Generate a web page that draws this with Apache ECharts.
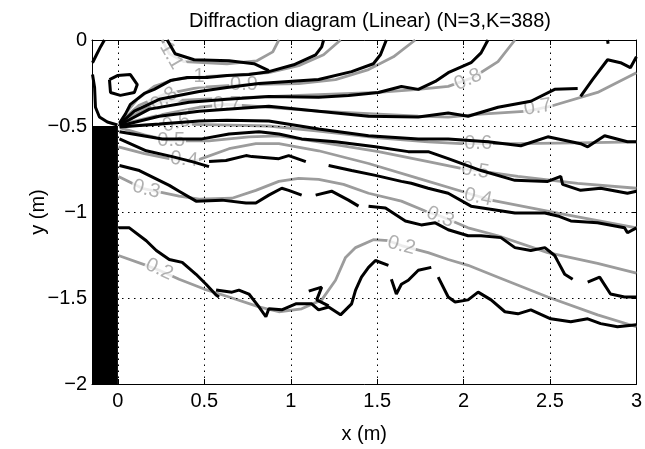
<!DOCTYPE html>
<html><head><meta charset="utf-8">
<script src="https://cdn.jsdelivr.net/npm/echarts@6/dist/echarts.min.js"></script>
<style>html,body{margin:0;padding:0;background:#fff}#c{width:645px;height:449px}</style>
</head><body><div id="c"></div><script>
// ---- axis ticks ----
const xTicks = [0, 0.5, 1, 1.5, 2, 2.5, 3];
const yTicks = [-2, -1.5, -1, -0.5, 0];
const xGrid = [0, 0.5, 1, 1.5, 2, 2.5];
const yGrid = [-1.5, -1, -0.5];

// ---- breakwater (solid block) ----
const breakwater = [[-0.15, -0.5], [0, -0.5]];

// ---- theoretical contours (gray) ----
const gray11 = [[0.256,0],[0.297,-0.080],[0.383,-0.126],[0.631,-0.138],[0.804,-0.121],[0.896,-0.069],[0.931,0]];
const gray10 = [[0.055,-0.414],[0.112,-0.345],[0.210,-0.270],[0.326,-0.230],[0.470,-0.213],[0.643,-0.207],[0.873,-0.190],[1.046,-0.149],[1.190,-0.086],[1.288,0]];
const gray09 = [[0.043,-0.448],[0.124,-0.379],[0.268,-0.316],[0.470,-0.276],[0.729,-0.259],[1.046,-0.253],[1.259,-0.230],[1.450,-0.172],[1.594,-0.098],[1.720,0]];
const gray08 = [[0.032,-0.471],[0.153,-0.402],[0.268,-0.356],[0.470,-0.345],[0.758,-0.333],[1.046,-0.322],[1.507,-0.305],[1.738,-0.287],[1.911,-0.270],[2.055,-0.218],[2.199,-0.126],[2.297,0]];
const gray07 = [[0.026,-0.489],[0.239,-0.437],[0.470,-0.391],[0.631,-0.374],[0.873,-0.391],[1.161,-0.414],[1.507,-0.431],[1.738,-0.443],[1.911,-0.448],[2.101,-0.431],[2.372,-0.414],[2.504,-0.385],[2.775,-0.305],[3.0,-0.190]];
const gray06 = [[0.020,-0.500],[0.182,-0.494],[0.337,-0.489],[0.585,-0.494],[0.873,-0.500],[1.161,-0.529],[1.507,-0.569],[1.795,-0.592],[1.986,-0.603],[2.314,-0.603],[2.660,-0.598],[3.0,-0.592]];
const gray05 = [[0.014,-0.511],[0.153,-0.552],[0.308,-0.586],[0.527,-0.586],[0.758,-0.563],[0.931,-0.557],[1.161,-0.592],[1.507,-0.649],[1.795,-0.707],[1.986,-0.747],[2.314,-0.793],[2.660,-0.833],[3.0,-0.862]];
const gray04 = [[0.003,-0.621],[0.153,-0.661],[0.297,-0.690],[0.452,-0.701],[0.643,-0.632],[0.798,-0.603],[0.931,-0.603],[1.161,-0.644],[1.450,-0.718],[1.738,-0.805],[2.026,-0.891],[2.159,-0.931],[2.545,-1.006],[3.0,-1.092]];
const gray03 = [[0.003,-0.793],[0.141,-0.862],[0.354,-0.908],[0.470,-0.925],[0.660,-0.920],[0.798,-0.874],[0.931,-0.822],[1.046,-0.805],[1.161,-0.810],[1.305,-0.839],[1.450,-0.891],[1.640,-0.937],[1.778,-0.994],[1.865,-1.023],[2.026,-1.092],[2.199,-1.138],[2.487,-1.236],[2.775,-1.299],[3.0,-1.356]];
const gray02 = [[0.003,-1.253],[0.164,-1.310],[0.239,-1.339],[0.354,-1.391],[0.499,-1.448],[0.643,-1.494],[0.816,-1.552],[0.931,-1.580],[1.063,-1.563],[1.179,-1.511],[1.259,-1.397],[1.317,-1.264],[1.375,-1.207],[1.478,-1.161],[1.565,-1.167],[1.640,-1.195],[1.795,-1.236],[1.911,-1.276],[2.026,-1.310],[2.199,-1.379],[2.487,-1.494],[2.775,-1.598],[3.0,-1.667]];

// ---- measured contours (black) ----
const blackTop = [[0.285,0],[0.331,-0.080],[0.441,-0.115],[0.643,-0.121],[0.787,-0.138],[0.873,-0.178]];
const black10 = [[0.009,-0.483],[0.043,-0.431],[0.072,-0.374],[0.153,-0.310],[0.210,-0.287],[0.303,-0.236],[0.401,-0.218],[0.516,-0.218],[0.631,-0.207],[0.758,-0.201],[0.873,-0.184],[1.017,-0.144],[1.144,-0.086],[1.179,-0.040],[1.190,0]];
const black09 = [[0.009,-0.489],[0.095,-0.414],[0.239,-0.345],[0.470,-0.299],[0.631,-0.276],[0.816,-0.253],[0.988,-0.241],[1.161,-0.230],[1.352,-0.184],[1.478,-0.138],[1.519,-0.086],[1.553,0]];
const black08 = [[0.009,-0.494],[0.182,-0.402],[0.412,-0.362],[0.631,-0.345],[0.873,-0.328],[1.161,-0.333],[1.334,-0.322],[1.507,-0.305],[1.640,-0.270],[1.738,-0.287],[1.836,-0.241],[1.911,-0.190],[2.043,-0.132],[2.101,-0.075],[2.141,0]];
const black07 = [[0.009,-0.500],[0.239,-0.443],[0.470,-0.414],[0.631,-0.402],[0.873,-0.385],[1.161,-0.414],[1.450,-0.443],[1.738,-0.448],[1.911,-0.425],[2.026,-0.443],[2.199,-0.391],[2.389,-0.356],[2.527,-0.287],[2.660,-0.282],null,[2.677,-0.328],[2.746,-0.230],[2.833,-0.115],[2.908,-0.132],[2.965,-0.161],[3.0,-0.098]];
const black07b = [[2.833,0],[2.836,-0.022]];
const black06 = [[0.009,-0.506],[0.239,-0.489],[0.470,-0.471],[0.631,-0.466],[0.873,-0.471],[1.161,-0.517],[1.450,-0.557],[1.738,-0.575],[1.911,-0.575],[2.141,-0.592],[2.331,-0.615],[2.487,-0.563],[2.677,-0.603],[2.718,-0.621],[2.816,-0.557],[2.948,-0.592],[3.0,-0.592]];
const black05 = [[0.009,-0.534],[0.256,-0.575],[0.487,-0.575],[0.643,-0.546],[0.816,-0.534],[0.931,-0.546],[1.063,-0.575],[1.259,-0.592],[1.490,-0.621],[1.680,-0.649],[1.795,-0.649],[1.911,-0.690],[2.101,-0.759],[2.297,-0.816],[2.487,-0.822],[2.562,-0.793],[2.573,-0.839],[2.677,-0.874],[2.793,-0.862],[2.948,-0.891],[3.0,-0.879]];
const black04 = [[0.009,-0.575],[0.164,-0.644],[0.314,-0.678],[0.429,-0.707],[0.527,-0.736],null,[0.527,-0.707],[0.625,-0.701],[0.741,-0.672],[0.775,-0.678],[0.931,-0.690],[0.988,-0.672],[1.087,-0.707],null,[1.219,-0.730],[1.352,-0.759],[1.490,-0.787],[1.640,-0.822],[1.697,-0.833],[1.795,-0.862],[1.911,-0.891],[2.043,-0.966],[2.297,-1.006],[2.470,-1.006],[2.545,-1.023],[2.620,-1.052],[2.775,-1.063],[2.931,-1.092],[2.948,-1.121],[3.0,-1.092]];
const black03 = [[0.009,-0.730],[0.124,-0.759],[0.297,-0.845],[0.354,-0.879],[0.452,-0.937],[0.602,-0.931],[0.741,-0.948],[0.798,-0.948],[0.873,-0.902],[0.948,-0.862],[0.988,-0.874],[1.063,-0.902],null,[1.144,-0.902],[1.236,-0.879],[1.334,-0.931],[1.392,-0.966],null,[1.450,-0.966],[1.548,-0.977],[1.663,-1.052],[1.755,-1.075],[1.836,-1.063],[1.911,-1.103],[2.026,-1.138],[2.101,-1.138],[2.216,-1.149],[2.297,-1.207],[2.389,-1.224],[2.470,-1.207],[2.527,-1.253],[2.545,-1.287],[2.585,-1.362],[2.631,-1.391],null,[2.718,-1.408],[2.787,-1.379],[2.850,-1.477],[2.931,-1.494],[3.0,-1.494]];
const black02 = [[0.003,-1.092],[0.066,-1.092],[0.164,-1.167],[0.222,-1.224],[0.297,-1.276],[0.372,-1.293],[0.452,-1.362],[0.510,-1.420],[0.568,-1.483],[0.585,-1.494],null,[0.568,-1.454],[0.660,-1.466],[0.700,-1.454],[0.758,-1.477],[0.816,-1.552],[0.856,-1.609],[0.873,-1.563],[0.948,-1.569],[1.029,-1.534],[1.121,-1.534],[1.161,-1.569],[1.219,-1.552],[1.288,-1.598],[1.352,-1.534],[1.375,-1.454],[1.409,-1.379],[1.450,-1.322],[1.490,-1.282],[1.565,-1.310],null,[1.582,-1.391],[1.611,-1.477],[1.640,-1.420],[1.680,-1.397],[1.738,-1.339],[1.813,-1.322],null,[1.853,-1.379],[1.911,-1.494],[1.951,-1.523],[2.026,-1.511],[2.084,-1.466],[2.159,-1.511],[2.239,-1.580],[2.314,-1.592],[2.389,-1.569],[2.504,-1.621],[2.620,-1.638],[2.718,-1.621],[2.793,-1.649],[2.890,-1.667],[3.0,-1.655]];
const black02b = [[1.104,-1.460],[1.179,-1.437],[1.150,-1.511],[1.219,-1.546]];
const blackL1 = [[-0.147,-0.132],[-0.124,-0.086],[-0.101,-0.040],[-0.078,0]];
const blackL2 = [[-0.147,-0.201],[-0.135,-0.276],[-0.130,-0.391],[-0.107,-0.448],[-0.061,-0.477],[-0.003,-0.494]];
const blackLoop = [[-0.049,-0.230],[-0.003,-0.207],[0.072,-0.201],[0.112,-0.259],[0.095,-0.305],[0.014,-0.322],[-0.043,-0.305],[-0.049,-0.230]];

// ---- contour labels ----
const labelText  = ['1.1','1','0.9','0.8','0.7','0.6','0.5','0.4','0.3','0.2','0.8','0.7','0.6','0.5','0.4','0.3','0.2'];
const labelX     = [0.308,0.470,0.729,0.268,0.631,0.337,0.308,0.383,0.164,0.239,2.026,2.429,2.084,2.067,2.084,1.865,1.640];
const labelY     = [-0.092,-0.213,-0.259,-0.345,-0.374,-0.483,-0.586,-0.695,-0.868,-1.333,-0.230,-0.391,-0.603,-0.759,-0.914,-1.029,-1.195];
const labelAngle = [-60,0,0,35,0,15,0,-5,-15,-25,25,10,0,-8,-12,-22,-15];

const FONT = '"Liberation Sans", Arial, Helvetica, sans-serif';
const GRAY = '#9c9c9c';
const grayLines = [gray11, gray10, gray09, gray08, gray07, gray06, gray05, gray04, gray03, gray02];
const blackLines = [blackTop, black10, black09, black08, black07, black07b, black06, black05, black04, black03, black02, black02b, blackL1, blackL2, blackLoop];

const labelStyle = {show: true, position: 'inside', color: GRAY, fontSize: 20, fontFamily: FONT,
                    backgroundColor: '#fff', padding: [0, 1]};

const series = [];
series.push({
  type: 'line', data: [], silent: true,
  markLine: {
    silent: true, symbol: ['none', 'none'], label: {show: false},
    lineStyle: {color: '#000', type: [1.5, 4.5], width: 1},
    data: xGrid.map(v => ({xAxis: v})).concat(yGrid.map(v => ({yAxis: v})))
  }, z: 1
});
grayLines.forEach(d => series.push({
  type: 'line', data: d, symbol: 'none', connectNulls: false, silent: true,
  lineStyle: {color: GRAY, width: 2.8}, z: 2
}));
series.push({
  type: 'scatter', symbolSize: 2, silent: true, itemStyle: {color: 'rgba(0,0,0,0)'}, z: 3,
  data: labelText.map((t, i) => ({
    name: t, value: [labelX[i], labelY[i]],
    label: Object.assign({rotate: labelAngle[i], formatter: t}, labelStyle)
  })),
  label: Object.assign({formatter: p => p.name}, labelStyle)
});
blackLines.forEach(d => series.push({
  type: 'line', data: d, symbol: 'none', connectNulls: false, silent: true,
  lineStyle: {color: '#000', width: 3}, z: 4
}));
series.push({
  type: 'line', data: breakwater, symbol: 'none', silent: true,
  lineStyle: {width: 0}, areaStyle: {color: '#000', opacity: 1, origin: 'start'}, z: 5
});

const fmt = v => String(v).replace('-', '\u2212');
const axisText = {color: '#000', fontSize: 20, fontFamily: FONT};

const option = {
  animation: false,
  backgroundColor: '#fff',
  title: {
    text: 'Diffraction diagram (Linear) (N=3,K=388)',
    left: 365, top: 6, textAlign: 'center',
    textStyle: {color: '#000', fontSize: 20, fontWeight: 'normal', fontFamily: FONT}
  },
  grid: {left: 92, right: 6, top: 40, bottom: 61, show: false},
  xAxis: [
    {type: 'value', min: -0.15, max: 3, position: 'bottom',
     axisLine: {show: true, onZero: false, lineStyle: {color: '#000', width: 1}},
     axisTick: {show: true, inside: true, length: 5, customValues: xTicks, lineStyle: {color: '#000'}},
     axisLabel: Object.assign({customValues: xTicks, margin: 7, formatter: fmt}, axisText),
     splitLine: {show: false},
     name: 'x (m)', nameLocation: 'middle', nameGap: 40, nameMoveOverlap: false, nameTextStyle: axisText},
    {type: 'value', min: -0.15, max: 3, position: 'top',
     axisLine: {show: true, onZero: false, lineStyle: {color: '#000', width: 1}},
     axisTick: {show: true, inside: true, length: 5, customValues: xTicks, lineStyle: {color: '#000'}},
     axisLabel: {show: false}, splitLine: {show: false}}
  ],
  yAxis: [
    {type: 'value', min: -2, max: 0, interval: 0.5, position: 'left',
     axisLine: {show: true, onZero: false, lineStyle: {color: '#000', width: 1}},
     axisTick: {show: true, inside: true, length: 5, lineStyle: {color: '#000'}},
     axisLabel: Object.assign({margin: 5, formatter: fmt}, axisText),
     splitLine: {show: false},
     name: 'y (m)', nameLocation: 'middle', nameGap: 44, nameMoveOverlap: false, nameTextStyle: axisText},
    {type: 'value', min: -2, max: 0, interval: 0.5, position: 'right',
     axisLine: {show: true, onZero: false, lineStyle: {color: '#000', width: 1}},
     axisTick: {show: true, inside: true, length: 5, lineStyle: {color: '#000'}},
     axisLabel: {show: false}, splitLine: {show: false}}
  ],
  series: series
};
const chart = echarts.init(document.getElementById('c'), null, {renderer: 'canvas'});
chart.setOption(option);
</script></body></html>
